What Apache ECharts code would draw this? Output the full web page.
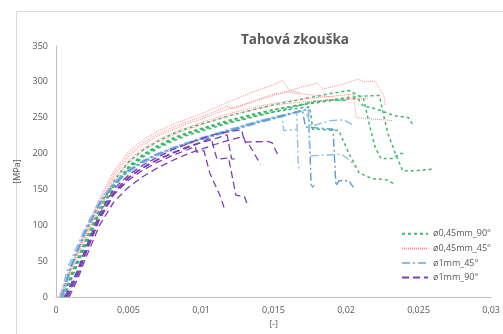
<!DOCTYPE html>
<html>
<head>
<meta charset="utf-8">
<script src="https://cdn.jsdelivr.net/npm/echarts@6/dist/echarts.min.js"></script>
<style>
  html, body { margin: 0; padding: 0; background: #fff; }
  #chart { width: 503px; height: 334px; }
</style>
</head>
<body>
<div id="chart"></div>
<script>
// tick labels, czech decimal comma
const xTickLabels = ['0', '0,005', '0,01', '0,015', '0,02', '0,025', '0,03']
const seriesNames = ['ø0,45mm_90°', 'ø0,45mm_45°', 'ø1mm_45°', 'ø1mm_90°']

// ø0,45mm_90° (green dashed)
const green1 = [[0.0005,0],[0.001,25],[0.002,72],[0.003,118],[0.004,155],[0.005,180],[0.006,197],[0.007,209],[0.008,219],[0.009,227],[0.010,233],[0.011,239],[0.012,244],[0.013,249],[0.014,254],[0.015,258],[0.016,261],[0.017,264],[0.0175,265],[0.0177,234],[0.018,234],[0.0195,232],[0.0202,200],[0.0209,173],[0.0218,165],[0.0227,164],[0.0233,158]]
const green2 = [[0.0004,0],[0.001,30],[0.002,78],[0.003,124],[0.004,162],[0.005,188],[0.006,205],[0.007,217],[0.008,227],[0.009,235],[0.010,241],[0.011,247],[0.012,253],[0.013,258],[0.014,263],[0.015,268],[0.016,272],[0.017,276],[0.018,280],[0.019,284],[0.0202,288],[0.0212,277],[0.0216,241],[0.0220,209],[0.0224,193],[0.0232,193],[0.0237,200],[0.0241,200]]
const green3 = [[0.0005,0],[0.001,27],[0.002,74],[0.003,120],[0.004,157],[0.005,182],[0.006,199],[0.007,211],[0.008,221],[0.009,229],[0.010,235],[0.011,241],[0.012,247],[0.013,252],[0.014,257],[0.015,261],[0.016,265],[0.017,268],[0.018,271],[0.019,274],[0.0208,277],[0.0212,266],[0.0218,264],[0.0225,259],[0.0233,253],[0.0243,250],[0.0246,240]]
const green4 = [[0.0005,0],[0.001,26],[0.002,73],[0.003,119],[0.004,156],[0.005,181],[0.006,198],[0.007,210],[0.008,220],[0.009,228],[0.010,234],[0.011,240],[0.012,246],[0.013,251],[0.014,256],[0.015,261],[0.016,265],[0.017,269],[0.018,272],[0.019,275],[0.020,278],[0.021,280],[0.0223,281],[0.0225,261],[0.0229,227],[0.0234,200],[0.0239,176],[0.0246,176],[0.0259,178]]
const green5 = [[0.0006,0],[0.001,22],[0.002,70],[0.003,116],[0.004,153],[0.005,178],[0.006,195],[0.007,207],[0.008,217],[0.009,225],[0.010,231],[0.011,237],[0.012,243],[0.013,248],[0.014,253],[0.015,258],[0.016,263],[0.017,268],[0.0176,272],[0.018,273],[0.019,275],[0.020,274]]

// ø0,45mm_45° (red dotted)
const red1 = [[0.0002,0],[0.001,42],[0.002,92],[0.003,137],[0.004,176],[0.005,203],[0.006,219],[0.007,231],[0.008,240],[0.009,248],[0.010,255],[0.011,264],[0.012,273],[0.013,281],[0.014,289],[0.015,296],[0.0156,302],[0.0161,288],[0.0168,285]]
const red2 = [[0.0003,0],[0.001,38],[0.002,86],[0.003,130],[0.004,168],[0.005,196],[0.006,212],[0.007,224],[0.008,233],[0.009,241],[0.010,248],[0.011,256],[0.012,263],[0.013,269],[0.014,275],[0.015,281],[0.016,287],[0.017,293],[0.018,298],[0.0184,290],[0.019,293],[0.020,298],[0.0208,304],[0.0212,300],[0.0220,301],[0.0226,281],[0.0227,268]]
const red3 = [[0.0003,0],[0.001,36],[0.002,84],[0.003,127],[0.004,164],[0.005,191],[0.006,207],[0.007,219],[0.008,228],[0.009,236],[0.010,243],[0.011,250],[0.012,256],[0.013,261],[0.014,266],[0.015,270],[0.016,273],[0.017,276],[0.018,278],[0.019,280],[0.0205,283],[0.0207,250],[0.0232,246]]
const red4 = [[0.0004,0],[0.001,34],[0.002,80],[0.003,124],[0.004,160],[0.005,187],[0.006,204],[0.007,216],[0.008,225],[0.009,233],[0.010,240],[0.011,247],[0.012,253],[0.013,258],[0.014,263],[0.015,267],[0.016,270],[0.017,272],[0.018,274],[0.020,276],[0.0215,277]]
const red5 = [[0.0002,0],[0.001,40],[0.002,90],[0.003,134],[0.004,172],[0.005,199],[0.006,215],[0.007,227],[0.008,236],[0.009,244],[0.010,251],[0.011,259],[0.0118,266],[0.0122,262],[0.013,268],[0.014,276],[0.015,283],[0.016,286],[0.0165,284],[0.017,283],[0.018,281],[0.0192,279]]

// ø1mm_45° (blue dash-dot)
const blue1 = [[0.0003,0],[0.0008,40],[0.001,50],[0.002,96],[0.003,134],[0.004,160],[0.005,177],[0.006,190],[0.007,200],[0.008,208],[0.009,215],[0.010,221],[0.011,227],[0.012,233],[0.013,239],[0.014,245],[0.015,250],[0.0156,252],[0.0157,232],[0.0166,234]]
const blue2 = [[0.0004,0],[0.001,44],[0.002,92],[0.003,131],[0.004,158],[0.005,176],[0.006,189],[0.007,199],[0.008,207],[0.009,214],[0.010,220],[0.011,226],[0.012,232],[0.013,238],[0.014,244],[0.015,249],[0.016,254],[0.0166,258],[0.0167,182],[0.0168,178]]
const blue3 = [[0.0005,0],[0.001,40],[0.002,90],[0.003,130],[0.004,157],[0.005,175],[0.006,188],[0.007,198],[0.008,207],[0.009,214],[0.010,221],[0.011,227],[0.012,233],[0.013,239],[0.014,245],[0.015,250],[0.016,255],[0.017,260],[0.0174,263],[0.0176,152],[0.0178,156]]
const blue4 = [[0.0004,0],[0.001,42],[0.002,91],[0.003,132],[0.004,159],[0.005,177],[0.006,190],[0.007,200],[0.008,208],[0.009,215],[0.010,222],[0.011,228],[0.012,234],[0.013,240],[0.014,246],[0.015,251],[0.016,256],[0.017,260],[0.0174,262],[0.0175,197],[0.0197,199],[0.0203,190],[0.0207,180]]
const blue5 = [[0.0005,0],[0.001,38],[0.002,88],[0.003,128],[0.004,156],[0.005,174],[0.006,187],[0.007,197],[0.008,206],[0.009,213],[0.010,219],[0.011,225],[0.012,231],[0.013,237],[0.014,243],[0.015,248],[0.016,254],[0.017,259],[0.0172,261],[0.0176,238],[0.0189,246],[0.0198,247],[0.0206,239]]
const blue6 = [[0.0004,0],[0.001,41],[0.002,90],[0.003,130],[0.004,157],[0.005,176],[0.006,189],[0.007,199],[0.008,207],[0.009,214],[0.010,220],[0.011,226],[0.012,232],[0.013,238],[0.014,244],[0.015,249],[0.016,255],[0.017,260],[0.0171,260],[0.0172,237],[0.0191,234],[0.0193,155],[0.0195,162],[0.0202,162],[0.0205,153]]

// ø1mm_90° (purple long dash)
const purple1 = [[0.0008,0],[0.0015,30],[0.002,58],[0.003,108],[0.004,143],[0.005,163],[0.006,177],[0.007,188],[0.008,197],[0.009,205],[0.0096,210],[0.0097,202],[0.0102,204],[0.0106,173],[0.011,155],[0.0113,142],[0.0116,124]]
const purple2 = [[0.0007,0],[0.0015,35],[0.002,62],[0.003,112],[0.004,147],[0.005,167],[0.006,181],[0.007,192],[0.008,201],[0.009,209],[0.010,216],[0.0105,220],[0.0107,221],[0.0111,192],[0.0119,194],[0.0124,142],[0.0130,140],[0.0132,128]]
const purple3 = [[0.0006,0],[0.0015,38],[0.002,66],[0.003,116],[0.004,151],[0.005,170],[0.006,184],[0.007,195],[0.008,205],[0.009,213],[0.010,221],[0.011,227],[0.012,231],[0.0128,233],[0.0130,216],[0.0146,217],[0.0149,215],[0.0153,198]]
const purple4 = [[0.0009,0],[0.0015,25],[0.002,52],[0.003,100],[0.004,133],[0.005,153],[0.006,168],[0.007,180],[0.008,190],[0.009,199],[0.010,206],[0.011,213],[0.012,219],[0.0129,224],[0.0131,214],[0.0133,213],[0.0139,192],[0.0141,185]]
const purple5 = [[0.0007,0],[0.0015,33],[0.002,60],[0.003,110],[0.004,145],[0.005,166],[0.006,180],[0.007,191],[0.008,200],[0.009,208],[0.010,215],[0.011,221],[0.0118,226],[0.0119,215],[0.0121,193],[0.0124,192]]

const styles = [
  { color: '#3cb96c', type: [3, 3], width: 1.5 },
  { color: '#ff8a8a', type: [1, 1], width: 1 },
  { color: '#8fbce6', type: [8, 3, 2, 3], width: 1.4 },
  { color: '#7a3db5', type: [7, 4], width: 1.3 },
]
const groups = [
  [green1, green2, green3, green4, green5],
  [red1, red2, red3, red4, red5],
  [blue1, blue2, blue3, blue4, blue5, blue6],
  [purple1, purple2, purple3, purple4, purple5],
]
const darkBlue = '#5b9bd5'

const series = []
groups.forEach((curves, g) => {
  curves.forEach((data, i) => {
    const st = styles[g]
    const color = g === 2 && (i === 2 || i === 5) ? darkBlue : st.color
    series.push({
      name: seriesNames[g],
      type: 'line',
      data,
      symbol: 'none',
      color: st.color,
      lineStyle: { color, width: st.width, type: st.type },
    })
  })
})

const chart = echarts.init(document.getElementById('chart'))
chart.setOption({
  animation: false,
  title: {
    text: 'Tahová zkouška',
    left: 290,
    top: 28,
    textAlign: 'center',
    textStyle: { fontFamily: 'Open Sans', fontSize: 13.5, fontWeight: 'bold', color: '#595959' },
  },
  graphic: [{
    type: 'rect', left: 14, top: 9, silent: true,
    shape: { width: 600, height: 400 },
    style: { fill: 'none', stroke: '#d9d9d9', lineWidth: 1 },
  }],
  grid: { left: 56, right: 6, top: 46, bottom: 29 },
  legend: {
    data: seriesNames,
    orient: 'vertical',
    left: 401,
    top: 229,
    padding: 0,
    itemWidth: 26,
    itemHeight: 12,
    itemGap: 5,
    itemStyle: { opacity: 0 },
    textStyle: { fontFamily: 'Open Sans', fontSize: 9, color: '#595959' },
  },
  xAxis: {
    type: 'value', min: 0, max: 0.03, interval: 0.005,
    name: '[-]', nameLocation: 'middle', nameGap: 23,
    nameTextStyle: { fontFamily: 'Open Sans', fontSize: 9, color: '#595959' },
    axisLine: { lineStyle: { color: '#bfbfbf' } },
    axisTick: { show: false },
    splitLine: { show: false },
    axisLabel: {
      fontFamily: 'Open Sans', fontSize: 9, color: '#595959', margin: 9,
      formatter: (v) => xTickLabels[Math.round(v / 0.005)],
    },
  },
  yAxis: {
    type: 'value', min: 0, max: 350, interval: 50,
    name: '[MPa]', nameLocation: 'middle', nameGap: 31, nameRotate: 90,
    nameTextStyle: { fontFamily: 'Open Sans', fontSize: 9, color: '#595959' },
    axisLine: { show: true, lineStyle: { color: '#bfbfbf' } },
    axisTick: { show: false },
    splitLine: { show: false },
    axisLabel: { fontFamily: 'Open Sans', fontSize: 9, color: '#595959', margin: 8 },
  },
  series,
})
</script>
</body>
</html>
